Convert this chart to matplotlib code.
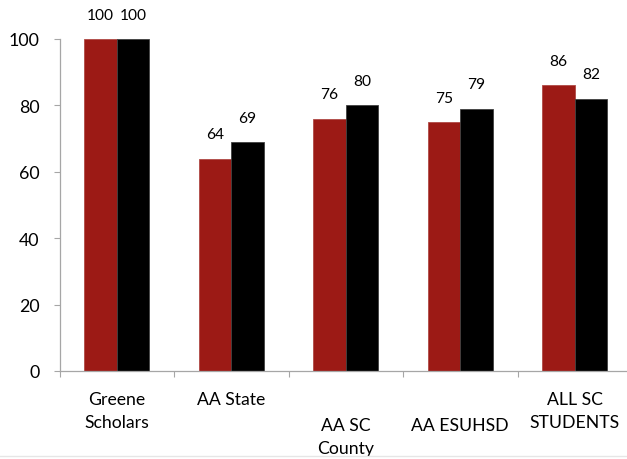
import matplotlib
matplotlib.use("Agg")
import matplotlib.pyplot as plt
from matplotlib.lines import Line2D

# ---- data ----
categories = ["Greene\nScholars", "AA State", "AA SC\nCounty", "AA ESUHSD", "ALL SC\nSTUDENTS"]
series_red = [100, 64, 76, 75, 86]
series_black = [100, 69, 80, 79, 82]
y_ticks = [0, 20, 40, 60, 80, 100]

RED = "#9c1a15"
AXIS_GRAY = "#a6a6a6"
plt.rcParams["font.family"] = ["Lato", "DejaVu Sans"]

W, H = 627, 460
fig = plt.figure(figsize=(W / 100, H / 100), dpi=100)
# axes spans 59.5 px .. 632 px (runs slightly past the right edge like the source)
ax = fig.add_axes([59.5 / W, 1 - 372 / H, (632 - 59.5) / W, (372 - 40) / H])

x = list(range(len(categories)))
bw = 0.285
bars_r = ax.bar([i - bw / 2 for i in x], series_red, width=bw, color=RED,
                edgecolor="#b04a45", linewidth=0.6, zorder=2)
bars_b = ax.bar([i + bw / 2 for i in x], series_black, width=bw, color="black",
                edgecolor="#404040", linewidth=0.6, zorder=2)

for bars, vals in ((bars_r, series_red), (bars_b, series_black)):
    for rect, v in zip(bars, vals):
        ax.annotate(str(v), (rect.get_x() + rect.get_width() / 2, v),
                    xytext=(0, 17.5), textcoords="offset points",
                    ha="center", va="center", fontsize=11.2, color="black")

ax.set_xlim(-0.5, len(categories) - 0.5)
ax.set_ylim(0, 100)
ax.set_yticks(y_ticks)
ax.tick_params(axis="y", labelsize=12.8, length=4.5, color=AXIS_GRAY, pad=10)

# category boundaries carry the tick marks, labels sit at the centres
ax.set_xticks([i + 0.5 for i in x[:-1]] + [-0.5])
ax.set_xticklabels([])
ax.tick_params(axis="x", length=4, color=AXIS_GRAY)

# staggered labels like the original (some pushed down one line)
stagger = [0, 0, 1, 1, 0]
for i, lab in enumerate(categories):
    ax.annotate(lab, (i, 0), xycoords=("data", "axes fraction"),
                xytext=(0, -14.5 - stagger[i] * 18.7), textcoords="offset points",
                ha="center", va="top", fontsize=12.7, linespacing=1.55)

for s in ("top", "right"):
    ax.spines[s].set_visible(False)
for s in ("left", "bottom"):
    ax.spines[s].set_color(AXIS_GRAY)
    ax.spines[s].set_linewidth(0.9)

# faint frame line at the bottom of the picture
fig.add_artist(Line2D([0, 1], [1 - 457 / H] * 2, color="#e6e6e6", linewidth=1,
                      transform=fig.transFigure))

fig.savefig("out.png", dpi=100)
